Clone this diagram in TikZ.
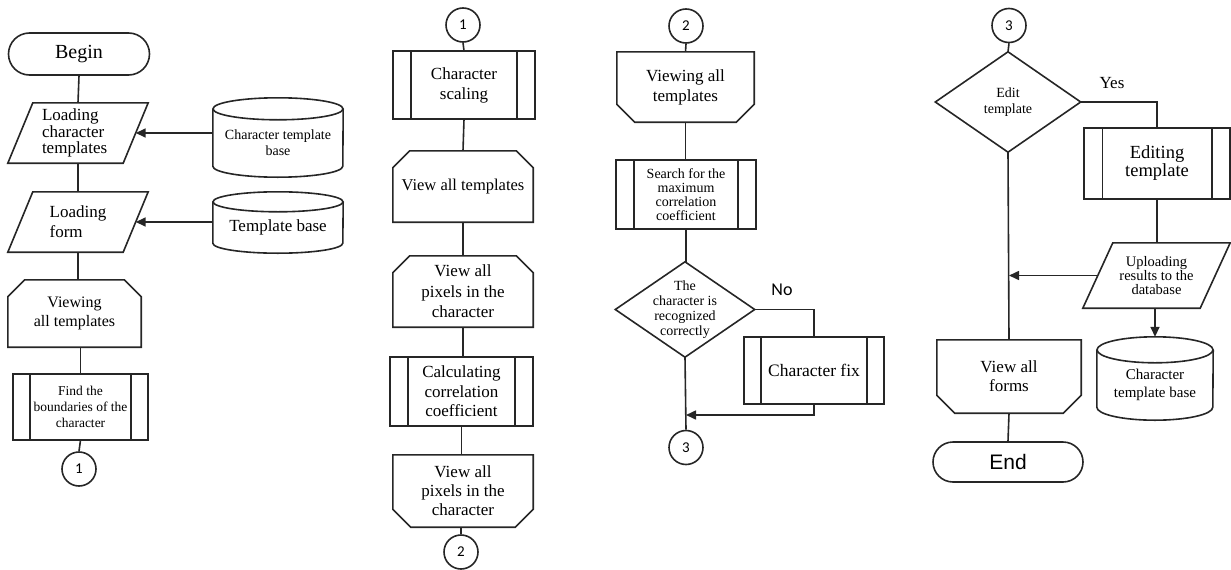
\documentclass[tikz,border=0pt]{standalone}
\usepackage{fontspec}
\setmainfont{Liberation Serif}
\newfontfamily\arialfont{Liberation Sans}
\newfontfamily\calfont{Carlito}
\usetikzlibrary{arrows.meta,calc}
\newcommand\fs[2]{\fontsize{#1}{#2}\selectfont}

% outlines drawn around plain rectangular nodes
\newcommand\paraoutline[2]{\draw[ln] ([xshift=#2]#1.north west) -- (#1.north east) -- ([xshift=-#2]#1.south east) -- (#1.south west) -- cycle;}
\newcommand\preptop[2]{\draw[ln] ([yshift=-#2]#1.north west) -- ([xshift=#2]#1.north west) -- ([xshift=-#2]#1.north east) -- ([yshift=-#2]#1.north east) -- (#1.south east) -- (#1.south west) -- cycle;}
\newcommand\prepbottom[2]{\draw[ln] (#1.north west) -- (#1.north east) -- ([yshift=#2]#1.south east) -- ([xshift=-#2]#1.south east) -- ([xshift=#2]#1.south west) -- ([yshift=#2]#1.south west) -- cycle;}
\newcommand\rhombus[1]{\draw[ln] (#1.north) -- (#1.east) -- (#1.south) -- (#1.west) -- cycle;}
% predefined process: frame with a bar near each side
\newcommand\procoutline[2]{\draw[ln] (#1.north west) -- (#1.north east) -- (#1.south east) -- (#1.south west) -- cycle;
  \draw[ln] ([xshift=#2]#1.north west) -- ([xshift=#2]#1.south west);
  \draw[ln] ([xshift=-#2]#1.north east) -- ([xshift=-#2]#1.south east);}
% database: node is the body from the top ellipse centre down to the bottom
\newcommand\dbase[3]{\draw[ln] (#1.north west) -- ([yshift=#3]#1.south west)
  arc[start angle=180,end angle=360,x radius=#2pt,y radius=#3pt] -- (#1.north east);
  \draw[ln] (#1.north) ellipse[x radius=#2pt,y radius=#3pt];}

\tikzset{
  ln/.style={line width=1.6pt, draw=black!85},
  arr/.style={ln, -{Triangle[length=10pt,width=9pt]}},
  sz/.style 2 args={minimum width=#1pt, minimum height=#2pt},
  every node/.style={inner sep=0pt, align=center},
  blank/.style={rectangle},
  term/.style={rectangle, ln, rounded corners=#1pt},
  conn/.style={circle, ln, minimum size=34pt, font=\calfont\fs{15}{15}},
}

\begin{document}
\begin{tikzpicture}[x=1pt,y=1pt]
\useasboundingbox (0,0) rectangle (1231,-570);

% ---------- column 1 ----------
\node[term=21, draw, sz={141}{42}, font=\fs{20}{22}] (begin) at (79,-54) {Begin};
\node[blank, sz={140}{60}, text width=72pt, align=left, font=\fs{17}{16.5}] (p1) at (78,-133) {Loading\\character\\templates};
\paraoutline{p1}{25}
\node[blank, sz={140}{60}, align=left, font=\fs{17}{20}] (p2) at (78,-222) {Loading\\form};
\paraoutline{p2}{25}
\node[blank, sz={130}{68}, font=\fs{14}{16}] (c1) at (278,-143) {Character template\\base};
\dbase{c1}{65}{11}
\node[blank, sz={130}{51}, font=\fs{17}{20}] (c2) at (278,-227.5) {Template base};
\dbase{c2}{65}{10}
\node[blank, sz={133}{67}, font=\fs{16}{19}] (h1) at (74.5,-313.5) {Viewing\\all templates};
\preptop{h1}{17}
\node[blank, sz={135}{66}, font=\fs{13.5}{16}] (b1) at (80.5,-407) {Find the\\boundaries of the\\character};
\procoutline{b1}{17}
\node[conn, draw] (k1) at (79,-469) {1};

\draw[ln] (begin.south) -- (p1.north);
\draw[ln] (p1.south) -- (p2.north);
\draw[ln] (p2.south) -- (p2.south |- h1.north);
\draw[ln] (b1.north |- h1.south) -- (b1.north);
\draw[ln] (b1.south) -- (k1.north);
\draw[arr] (c1.west |- p1.east) -- ([xshift=-12.5pt]p1.east);
\draw[arr] (c2.west |- p2.east) -- ([xshift=-12.5pt]p2.east);

% ---------- column 2 ----------
\node[conn, draw] (k1b) at (463,-25) {1};
\node[blank, sz={142}{68}, font=\fs{17}{20}] (b2) at (464,-85) {Character\\scaling};
\procoutline{b2}{18}
\node[blank, sz={140}{71}, font=\fs{16.5}{20}] (h2) at (463,-186.5) {View all templates};
\preptop{h2}{17}
\node[blank, sz={140}{71}, font=\fs{17}{20.5}] (h3) at (463,-291.5) {View all\\pixels in the\\character};
\preptop{h3}{17}
\node[blank, sz={143}{69}, font=\fs{17}{19.5}] (b3) at (461.5,-391.5) {Calculating\\correlation\\coefficient};
\procoutline{b3}{18}
\node[blank, sz={140}{72}, font=\fs{17}{19}] (h4) at (463,-491) {View all\\pixels in the\\character};
\prepbottom{h4}{18}
\node[conn, draw] (k2) at (461,-552) {2};

\draw[ln] (k1b.south) -- (b2.north);
\draw[ln] (b2.south) -- (h2.north);
\draw[ln] (h2.south) -- (h3.north);
\draw[ln] (h3.south) -- (h3.south |- b3.north);
\draw[ln] (b3.south) -- (b3.south |- h4.north);
\draw[ln] (k2.north |- h4.south) -- (k2.north);

% ---------- column 3 ----------
\node[conn, draw] (k2b) at (686,-26) {2};
\node[blank, sz={137}{70}, font=\fs{17}{20}] (h5) at (685.5,-87) {Viewing all\\templates};
\prepbottom{h5}{18}
\node[blank, sz={140}{69}, font=\fs{14}{14}] (b4) at (686,-194.5) {Search for the\\maximum\\correlation\\coefficient};
\procoutline{b4}{18}
\node[blank, sz={139}{95}, font=\fs{14}{15}] (d1) at (685,-309.5) {The\\character is\\recognized\\correctly};
\rhombus{d1}
\node[blank, sz={140}{67}, font=\fs{17.5}{20}] (b5) at (814,-370.5) {Character fix};
\procoutline{b5}{17}
\node[font=\calfont\fs{18}{18}] (no) at (782,-290) {No};
\coordinate (j1) at (686,-415);
\node[conn, draw] (k3) at (686,-447.5) {3};

\draw[ln] (k2b.south) -- (h5.north);
\draw[ln] (h5.south) -- (h5.south |- b4.north);
\draw[ln] (b4.south) -- (b4.south |- d1.north);
\draw[ln] (d1.east) -| (b5.north);
\draw[ln] (d1.south) -- (k3.north);
\draw[arr] (b5.south) |- (j1);

% ---------- column 4 ----------
\node[conn, draw] (k3b) at (1009,-25.5) {3};
\node[blank, sz={145}{100}, font=\fs{14}{16}] (d2) at (1008,-102) {Edit\\template};
\rhombus{d2}
\node[font=\fs{17}{17}] (yes) at (1112,-83) {Yes};
\node[blank, sz={146}{71}, font=\fs{18.5}{18}] (b6) at (1157,-163.5) {Editing\\template};
\procoutline{b6}{18.5}
\node[blank, sz={147}{65}, font=\fs{14.5}{14}] (p3) at (1156.5,-275.5) {Uploading\\results to the\\database};
\paraoutline{p3}{30}
\node[blank, sz={116}{70}, font=\fs{15}{18}] (c3) at (1155,-385) {Character\\template base};
\dbase{c3}{58}{13}
\node[blank, sz={144}{73}, font=\fs{17}{19}] (h6) at (1009,-376.5) {View all\\forms};
\prepbottom{h6}{18}
\node[term=20, draw, sz={150}{40}, font=\arialfont\fs{21}{22}] (end) at (1008,-462) {End};

\draw[ln] (k3b.south) -- (d2.north);
\draw[ln] (d2.east) -| (b6.north);
\draw[ln] (b6.south) -- (b6.south |- p3.north);
\draw[arr] (c3.north |- p3.south) -- ([yshift=13pt]c3.north);
\draw[ln] (d2.south) -- (h6.north);
\draw[arr] ([xshift=15pt]p3.west) -- (p3.west -| h6.north);
\draw[ln] (h6.south) -- (end.north);
\end{tikzpicture}
\end{document}
